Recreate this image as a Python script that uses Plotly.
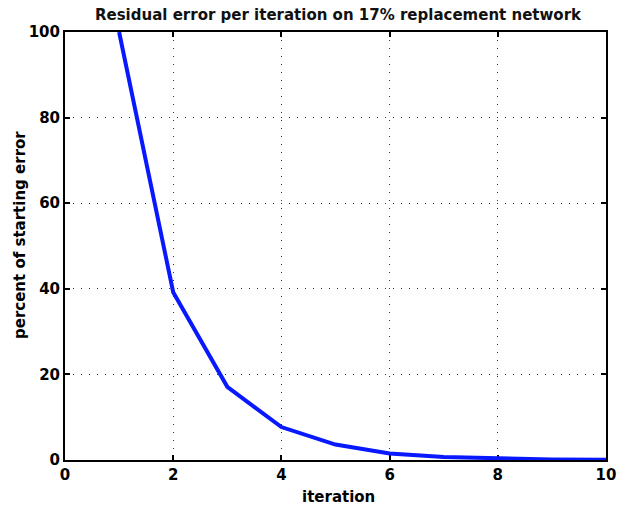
import plotly.graph_objects as go

iterations = [1, 2, 3, 4, 5, 6, 7, 8, 9, 10]
percent_error = [100, 39.2, 17.1, 7.7, 3.6, 1.5, 0.7, 0.3, 0.12, 0.05]
x_ticks = [0, 2, 4, 6, 8, 10]
y_ticks = [0, 20, 40, 60, 80, 100]

FONT = "DejaVu Sans"
W, H = 618, 509
L, R, T, B = 65, 12, 32, 49

fig = go.Figure()
fig.add_trace(go.Scatter(
    x=iterations, y=percent_error, mode="lines",
    line=dict(color="#0818ff", width=4),
    cliponaxis=False, showlegend=False,
))

axis_common = dict(
    showline=True, linecolor="black", linewidth=2, mirror="allticks",
    ticks="inside", ticklen=5, tickwidth=2, tickcolor="black",
    showgrid=True, gridcolor="#333333", gridwidth=1, griddash="1px,7px",
    zeroline=False, layer="below traces", automargin=False,
    tickfont=dict(family=FONT, size=15, color="black", weight="bold"),
)

fig.update_layout(
    width=W, height=H,
    margin=dict(l=L, r=R, t=T, b=B),
    paper_bgcolor="white", plot_bgcolor="white",
    title=dict(
        text="Residual error per iteration on 17% replacement network",
        x=338 / W, xanchor="center", y=1 - 15 / H, yanchor="middle",
        font=dict(family=FONT, size=15, color="#111111", weight="bold"),
    ),
    xaxis=dict(range=[0, 10], tickvals=x_ticks,
               ticktext=[str(v) for v in x_ticks], **axis_common),
    yaxis=dict(range=[0, 100], tickvals=y_ticks,
               ticktext=[str(v) for v in y_ticks], **axis_common),
    annotations=[
        dict(text="iteration", xref="paper", yref="paper",
             x=(338 - L) / (W - L - R), y=-(497 - (H - B)) / (H - T - B),
             xanchor="center", yanchor="middle", showarrow=False,
             font=dict(family=FONT, size=15, color="black", weight="bold")),
        dict(text="percent of starting error", xref="paper", yref="paper",
             x=-(L - 20) / (W - L - R), y=((H - B) - 235) / (H - T - B),
             xanchor="center", yanchor="middle", showarrow=False, textangle=-90,
             font=dict(family=FONT, size=15, color="black", weight="bold")),
    ],
)

fig.write_html("out.html")
